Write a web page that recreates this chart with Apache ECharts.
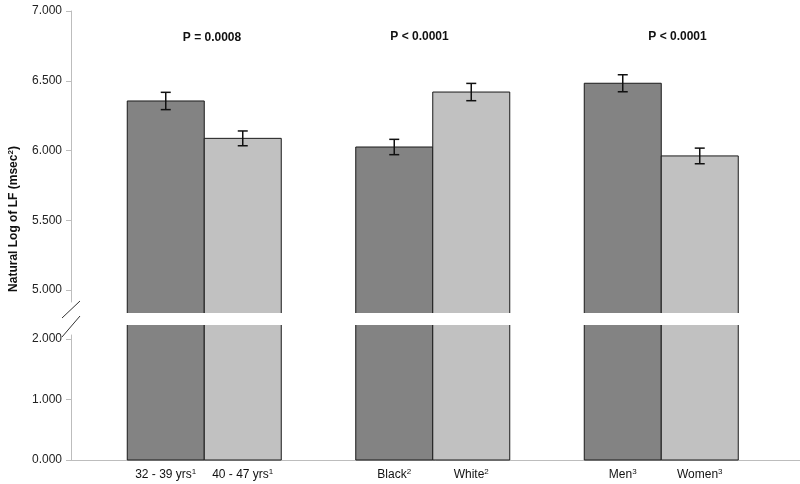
<!DOCTYPE html>
<html><head><meta charset="utf-8">
<script src="https://cdn.jsdelivr.net/npm/echarts@6/dist/echarts.min.js"></script>
<style>html,body{margin:0;padding:0;background:#fff}#c{width:800px;height:484px}</style>
</head><body><div id="c"></div>
<script>
// ---- data ----
const groups = ['Age', 'Race', 'Sex'];
const barLabelsA = ['32 - 39 yrs', 'Black', 'Men'];
const barLabelsB = ['40 - 47 yrs', 'White', 'Women'];
const footnotes = ['1', '2', '3'];
const meansA = [6.355, 6.025, 6.482];
const meansB = [6.087, 6.419, 5.961];
const seA = [0.062, 0.055, 0.061];
const seB = [0.053, 0.062, 0.056];
const pLabels = ['P = 0.0008', 'P < 0.0001', 'P < 0.0001'];
const upperTicks = [5, 5.5, 6, 6.5, 7];
const lowerTicks = [0, 1, 2];
const upperRange = [4.835, 7];      // bar segment (upper)
const lowerRange = [0, 2.231];      // bar segment (lower)
const upperAxisRange = [4.914, 7];  // drawn axis line (upper)
const lowerAxisRange = [0, 2.066];  // drawn axis line (lower)

// ---- styles ----
const FONT = "'Liberation Sans', Arial, sans-serif";
const BAR_W = 77;
const AXIS_C = '#bdbdbd';
const DARK = '#838383';
const LIGHT = '#c1c1c1';
const EDGE = '#1a1a1a';

const chart = echarts.init(document.getElementById('c'), null, {renderer: 'canvas'});

function yAxisCfg(grid, range, ticks) {
  return {
    type: 'value', gridIndex: grid, min: range[0], max: range[1],
    axisLine: {show: true, lineStyle: {color: AXIS_C, width: 1}},
    axisTick: {show: true, length: 5, customValues: ticks, lineStyle: {color: AXIS_C}},
    axisLabel: {customValues: ticks, margin: 9, fontSize: 12, color: '#222', fontFamily: FONT,
      formatter: v => Number(v).toFixed(3)},
    splitLine: {show: false}
  };
}
function hiddenY(grid, range) {
  return {type: 'value', gridIndex: grid, min: range[0], max: range[1], show: false, splitLine: {show: false}};
}
function xAxisCfg(grid) {
  return {type: 'category', gridIndex: grid, data: groups, show: false,
    axisLine: {show: false}, axisTick: {show: false}, axisLabel: {show: false}, splitLine: {show: false}};
}
function hiddenX(grid, showLine) {
  return {type: 'value', gridIndex: grid, min: 0, max: 1,
    axisLine: {show: !!showLine, lineStyle: {color: AXIS_C}}, axisTick: {show: false},
    axisLabel: {show: false}, splitLine: {show: false}};
}

// bars drawn through the axes' scales; edges on the broken side are left open
function makeBarRenderer(color, labels, withLabel) {
  return function (params, api) {
    const i = api.value(0), v = api.value(1), side = api.value(2);
    const cs = params.coordSys;
    const pV = api.coord([i, v]), p0 = api.coord([i, 0]);
    const cx = pV[0] + side * BAR_W / 2;
    const x0 = cx - BAR_W / 2, x1 = cx + BAR_W / 2;
    const yMin = cs.y, yMax = cs.y + cs.height;
    const topClipped = pV[1] < yMin, botClipped = p0[1] > yMax;
    const yt = Math.max(pV[1], yMin), yb = Math.min(p0[1], yMax);
    const children = [
      {type: 'rect', shape: {x: x0, y: yt, width: BAR_W, height: yb - yt}, style: {fill: color}}
    ];
    const st = {stroke: EDGE, lineWidth: 1, fill: null};
    children.push({type: 'line', shape: {x1: x0, y1: yt, x2: x0, y2: yb}, style: st});
    children.push({type: 'line', shape: {x1: x1, y1: yt, x2: x1, y2: yb}, style: st});
    if (!topClipped) children.push({type: 'line', shape: {x1: x0, y1: yt, x2: x1, y2: yt}, style: st});
    if (!botClipped) children.push({type: 'line', shape: {x1: x0, y1: yb, x2: x1, y2: yb}, style: st});
    if (withLabel) {
      children.push({type: 'text', x: cx, y: yb + 8, style: {
        text: '{t|' + labels[params.dataIndex] + '}{s|' + footnotes[params.dataIndex] + '}',
        align: 'center', verticalAlign: 'top',
        rich: {
          t: {fontSize: 12, fill: '#111', fontFamily: FONT, lineHeight: 14},
          s: {fontSize: 8, fill: '#111', fontFamily: FONT, lineHeight: 9, verticalAlign: 'top'}
        }}});
    }
    return {type: 'group', children: children};
  };
}
function barData(means, side) { return means.map((m, i) => [i, m, side]); }
function barSeries(grid, means, side, color, labels, withLabel) {
  return {type: 'custom', xAxisIndex: grid, yAxisIndex: grid, clip: false,
    renderItem: makeBarRenderer(color, labels, withLabel),
    encode: {x: 0, y: 1}, data: barData(means, side), silent: true, z: 2};
}

function errData(means, se, side) {
  return means.map((m, i) => [i, m - se[i], m + se[i], side]);
}
function renderErr(params, api) {
  const i = api.value(0), lo = api.value(1), hi = api.value(2), side = api.value(3);
  const pLo = api.coord([i, lo]), pHi = api.coord([i, hi]);
  const x = pLo[0] + side * BAR_W / 2;
  const cap = 5;
  const st = {stroke: '#111', lineWidth: 1.5};
  return {type: 'group', children: [
    {type: 'line', shape: {x1: x, y1: pHi[1], x2: x, y2: pLo[1]}, style: st},
    {type: 'line', shape: {x1: x - cap, y1: pHi[1], x2: x + cap, y2: pHi[1]}, style: st},
    {type: 'line', shape: {x1: x - cap, y1: pLo[1], x2: x + cap, y2: pLo[1]}, style: st}
  ]};
}

const pPos = [[212, 38], [419.5, 37], [677.5, 37]];

chart.setOption({
  animation: false,
  backgroundColor: '#fff',
  grid: [
    {left: 90, right: 24.5, top: 11, bottom: 171},   // upper bars
    {left: 90, right: 24.5, top: 325, bottom: 24},   // lower bars
    {left: 71, right: 0, top: 11, bottom: 24},       // x baseline
    {left: 71, right: 0, top: 11, bottom: 182},      // upper y axis
    {left: 71, right: 0, top: 335, bottom: 24}       // lower y axis
  ],
  xAxis: [xAxisCfg(0), xAxisCfg(1), hiddenX(2, true), hiddenX(3, false), hiddenX(4, false)],
  yAxis: [hiddenY(0, upperRange), hiddenY(1, lowerRange),
    {type: 'value', gridIndex: 2, show: false},
    yAxisCfg(3, upperAxisRange, upperTicks), yAxisCfg(4, lowerAxisRange, lowerTicks)],
  series: [
    barSeries(0, meansA, -1, DARK, barLabelsA, false),
    barSeries(0, meansB, 1, LIGHT, barLabelsB, false),
    barSeries(1, meansA, -1, DARK, barLabelsA, true),
    barSeries(1, meansB, 1, LIGHT, barLabelsB, true),
    {type: 'custom', xAxisIndex: 0, yAxisIndex: 0, renderItem: renderErr,
     encode: {x: 0, y: [1, 2]}, data: errData(meansA, seA, -1), z: 5, silent: true},
    {type: 'custom', xAxisIndex: 0, yAxisIndex: 0, renderItem: renderErr,
     encode: {x: 0, y: [1, 2]}, data: errData(meansB, seB, 1), z: 5, silent: true}
  ],
  graphic: [
    {type: 'text', x: 14, y: 219, rotation: Math.PI / 2,
     style: {text: '{b|Natural Log of LF (msec}{s|2}{b|)}', align: 'center', verticalAlign: 'middle',
       rich: {
         b: {fontSize: 12, fontWeight: 'bold', fontFamily: FONT, fill: '#111', lineHeight: 14},
         s: {fontSize: 8, fontWeight: 'bold', fontFamily: FONT, fill: '#111', lineHeight: 9, verticalAlign: 'top'}
       }}},
    {type: 'line', shape: {x1: 62, y1: 318, x2: 80, y2: 301}, style: {stroke: '#333', lineWidth: 1}},
    {type: 'line', shape: {x1: 62, y1: 337, x2: 80, y2: 316}, style: {stroke: '#333', lineWidth: 1}}
  ].concat(pLabels.map((t, i) => ({
    type: 'text', x: pPos[i][0], y: pPos[i][1],
    style: {text: t, align: 'center', verticalAlign: 'middle', fontSize: 12, fontWeight: 'bold',
      fontFamily: FONT, fill: '#111'}
  })))
});
</script>
</body></html>
